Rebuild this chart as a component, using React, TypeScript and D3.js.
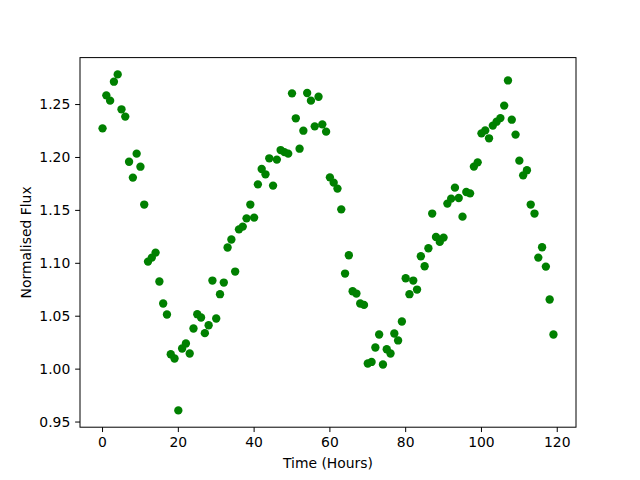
import React from "react";
import * as d3 from "d3";

const hours: number[] = Array.from({ length: 120 }, (_, i) => i);
const flux: number[] = [
  1.2275, 1.2587, 1.2537, 1.2716, 1.2785, 1.2455, 1.2386, 1.196, 1.181, 1.2036,
  1.1913, 1.1555, 1.1016, 1.1054, 1.1101, 1.0828, 1.062, 1.0516, 1.0141, 1.01,
  0.961, 1.0195, 1.0242, 1.0148, 1.0384, 1.0519, 1.0488, 1.034, 1.0415, 1.0837,
  1.0478, 1.0708, 1.0818, 1.1149, 1.1225, 1.0922, 1.1321, 1.1347, 1.1425, 1.1555,
  1.1432, 1.1746, 1.1891, 1.1841, 1.1992, 1.1734, 1.198, 1.207, 1.2051, 1.2036,
  1.2606, 1.237, 1.2083, 1.2253, 1.2609, 1.2537, 1.2294, 1.2574, 1.2313, 1.2244,
  1.1812, 1.1762, 1.1706, 1.151, 1.0903, 1.1076, 1.0736, 1.0714, 1.062, 1.0607,
  1.0053, 1.0068, 1.0204, 1.0327, 1.0044, 1.0188, 1.0148, 1.0337, 1.0271, 1.045,
  1.0859, 1.0708, 1.0837, 1.0752, 1.1067, 1.0972, 1.1142, 1.147, 1.1249, 1.1202,
  1.1243, 1.1564, 1.1611, 1.1715, 1.1617, 1.1441, 1.1674, 1.1661, 1.1914, 1.1954,
  1.2228, 1.2256, 1.2181, 1.2301, 1.2338, 1.2372, 1.249, 1.2728, 1.2357, 1.2216,
  1.197, 1.1831, 1.1879, 1.1555, 1.147, 1.1054, 1.1152, 1.0969, 1.0658, 1.0327,
];
const xTicks: number[] = [0, 20, 40, 60, 80, 100, 120];
const yTicks: number[] = [0.95, 1.0, 1.05, 1.1, 1.15, 1.2, 1.25];
const xLabel = "Time (Hours)";
const yLabel = "Normalised Flux";

const W = 640;
const H = 480;
const L = 80;
const R = 576;
const T = 57.6;
const B = 427.2;

function pad(ext: [number, number]): [number, number] {
  const d = (ext[1] - ext[0]) * 0.05;
  return [ext[0] - d, ext[1] + d];
}

export default function App() {
  const x = d3.scaleLinear().domain(pad(d3.extent(hours) as [number, number])).range([L, R]);
  const y = d3.scaleLinear().domain(pad(d3.extent(flux) as [number, number])).range([B, T]);
  const font = "'DejaVu Sans', sans-serif";
  const tl = 4.86;
  return (
    <svg
      width={W}
      height={H}
      style={{ position: "absolute", left: 0, top: 0, background: "#fff" }}
      fontFamily={font}
    >
      <rect x={0} y={0} width={W} height={H} fill="#fff" />
      {hours.map((h, i) => (
        <circle key={i} cx={x(h)} cy={y(flux[i])} r={4.17} fill="#008000" />
      ))}
      <rect x={L} y={T} width={R - L} height={B - T} fill="none" stroke="#000" strokeWidth={1} />
      {xTicks.map((t) => (
        <g key={t}>
          <line x1={x(t)} x2={x(t)} y1={B} y2={B + tl} stroke="#000" strokeWidth={1} />
          <text x={x(t)} y={B + tl + 4.86 + 10.5} textAnchor="middle" fontSize={13.9} fill="#000">
            {t}
          </text>
        </g>
      ))}
      {yTicks.map((t) => (
        <g key={t}>
          <line x1={L - tl} x2={L} y1={y(t)} y2={y(t)} stroke="#000" strokeWidth={1} />
          <text x={L - tl - 4.86} y={y(t)} dy="0.35em" textAnchor="end" fontSize={13.9} fill="#000">
            {t.toFixed(2)}
          </text>
        </g>
      ))}
      <text x={(L + R) / 2} y={468} textAnchor="middle" fontSize={13.9} fill="#000">
        {xLabel}
      </text>
      <text
        transform={`translate(31,${(T + B) / 2}) rotate(-90)`}
        textAnchor="middle"
        fontSize={13.9}
        fill="#000"
      >
        {yLabel}
      </text>
    </svg>
  );
}
